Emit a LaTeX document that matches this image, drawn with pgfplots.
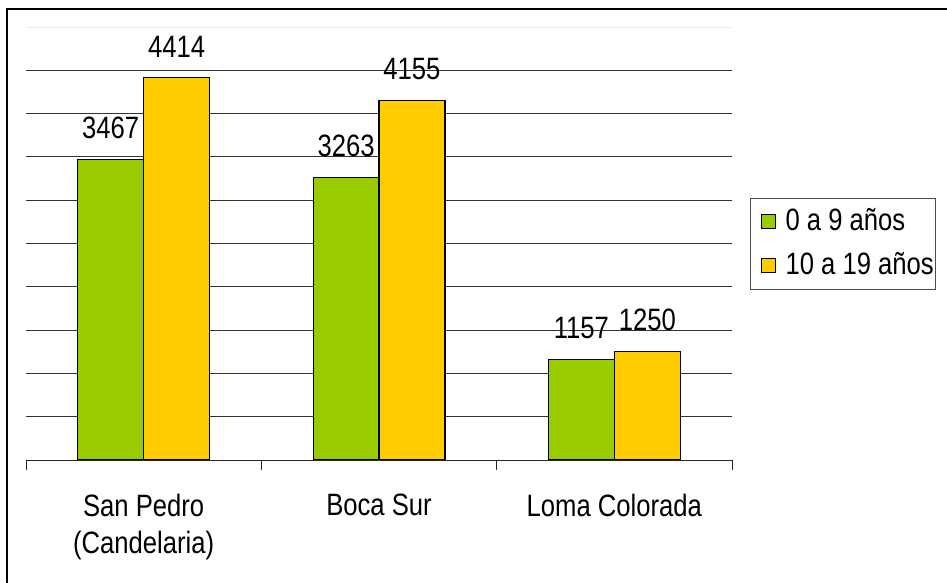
\documentclass[border=0pt]{standalone}
\usepackage{pgfplots}
\pgfplotsset{compat=1.18}
\usepackage{fontspec}
\setmainfont{Liberation Sans}[FakeStretch=0.83]
\definecolor{cgreen}{HTML}{99CC00}
\definecolor{cyellow}{HTML}{FFCC00}
\begin{document}
\fontsize{31}{38}\selectfont
\begin{tikzpicture}[x=1bp,y=1bp]
\path[use as bounding box] (0,0) rectangle (947,583);
\draw[line width=2bp] (7,0) -- (7,574) -- (947,574);
\begin{axis}[
    at={(26bp,123bp)}, anchor=south west,
    scale only axis, width=706bp, height=433bp,
    ybar=0pt, bar width=0.28,
    xmin=-0.5, xmax=2.5, ymin=0, ymax=5000,
    axis x line*=bottom, axis y line*=left,
    x axis line style={line width=0.8bp, black!85},
    y axis line style={draw=none},
    ytick style={draw=none},
    xtick={0,1,2},
    xticklabels={{San Pedro\\(Candelaria)},{Boca Sur},{Loma Colorada}},
    xticklabel style={align=center, yshift=-19bp, font=\fontsize{31}{38}\selectfont},
    major x tick style={draw=none},
    minor xtick={-0.5,0.5,1.5,2.5},
    minor x tick style={line width=0.8bp, black!85},
    minor tick length=10bp, tick align=outside,
    ytick={500,1000,...,4500}, yticklabels={},
    ymajorgrids, grid style={line width=0.8bp, black!80},
    extra y ticks={5000}, extra y tick labels={},
    extra y tick style={grid style={line width=0.8bp, black!8}},
    point meta=explicit symbolic,
    nodes near coords,
    every node near coord/.append style={font=\fontsize{31}{38}\selectfont, inner sep=0pt, yshift=20bp, black},
    legend style={at={(1.0255,0.605)}, anchor=north west, draw=black!70, line width=0.8bp,
        font=\fontsize{31}{38}\selectfont, row sep=13bp, inner xsep=0bp, inner ysep=8bp},
    legend cell align=left,
    legend image code/.code={\path (-10bp,0) (22bp,0); \draw[#1, line width=1bp] (0bp,-7bp) rectangle (14bp,7bp);},
]
\addplot[fill=cgreen, draw=black, line width=1.2bp] coordinates {(0,3467) [3467] (1,3263) [3263] (2,1157) [1157]};
\addplot[fill=cyellow, draw=black, line width=1.2bp] coordinates {(0,4414) [4414] (1,4155) [4155] (2,1250) [1250]};
\legend{0 a 9 años, 10 a 19 años}
\end{axis}
\end{tikzpicture}
\end{document}
